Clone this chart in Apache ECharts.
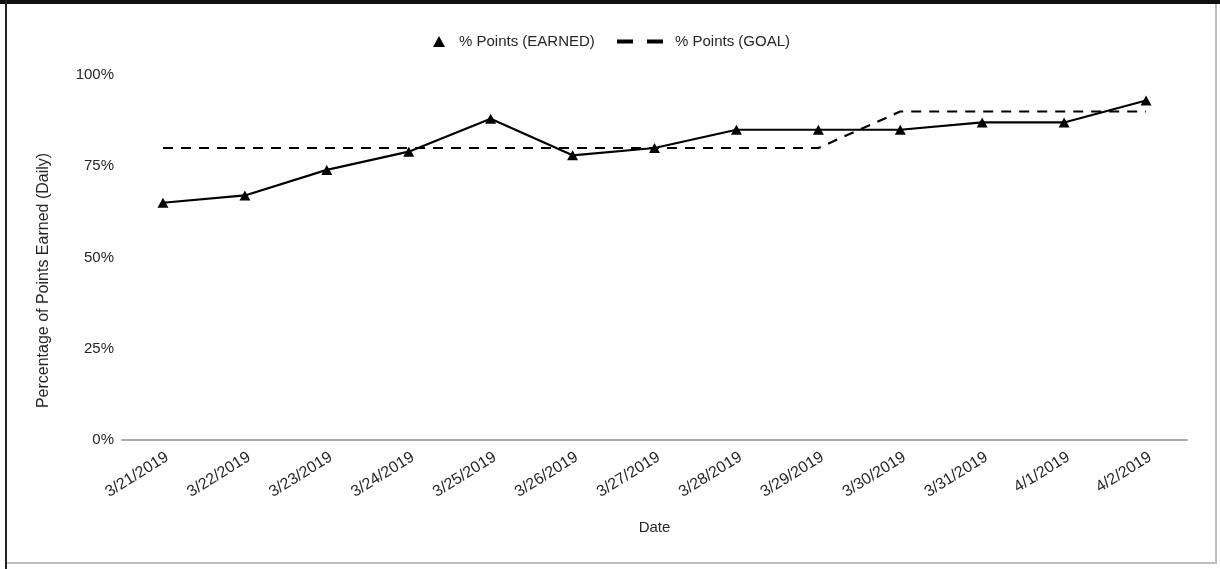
<!DOCTYPE html>
<html>
<head>
<meta charset="utf-8">
<script src="https://cdn.jsdelivr.net/npm/echarts@6/dist/echarts.min.js"></script>
<style>
  html, body { margin: 0; padding: 0; background: #fff; }
  #chart { position: absolute; left: 0; top: 0; width: 1220px; height: 569px; }
  .edge { position: absolute; pointer-events: none; }
</style>
</head>
<body>
<div id="chart"></div>
<!-- sheet frame around the embedded chart -->
<div class="edge" style="left:0;top:0;width:1220px;height:4px;background:#111;"></div>
<div class="edge" style="left:5px;top:0;width:2px;height:569px;background:#222;"></div>
<div class="edge" style="left:1215px;top:4px;width:2px;height:560px;background:#bdbdbd;"></div>
<div class="edge" style="left:7px;top:562px;width:1210px;height:2px;background:#bdbdbd;"></div>
<script>
const dates = ['3/21/2019', '3/22/2019', '3/23/2019', '3/24/2019', '3/25/2019', '3/26/2019',
  '3/27/2019', '3/28/2019', '3/29/2019', '3/30/2019', '3/31/2019', '4/1/2019', '4/2/2019'];
const earned = [65, 67, 74, 79, 88, 78, 80, 85, 85, 85, 87, 87, 93];
const goal = [80, 80, 80, 80, 80, 80, 80, 80, 80, 90, 90, 90, 90];
const yTicks = [0, 25, 50, 75, 100];

const FONT = '"Liberation Sans", Arial, sans-serif';
const TEXT = '#262626';
const chart = echarts.init(document.getElementById('chart'), null, { renderer: 'canvas' });

chart.setOption({
  animation: false,
  backgroundColor: '#fff',
  textStyle: { fontFamily: FONT },
  legend: [
    {
      data: [{ name: '% Points (EARNED)', icon: 'triangle' }],
      left: 428, top: 29,
      itemWidth: 12, itemHeight: 11, itemGap: 8,
      textStyle: { fontFamily: FONT, fontSize: 15, color: TEXT, padding: [0, 0, 0, 9] },
      itemStyle: { color: '#000' }
    },
    {
      data: [{ name: '% Points (GOAL)', icon: 'path://M0,0H16V4H0Z M30,0H46V4H30Z' }],
      left: 612, top: 29,
      itemWidth: 46, itemHeight: 4,
      textStyle: { fontFamily: FONT, fontSize: 15, color: TEXT, padding: [0, 0, 0, 7] },
      itemStyle: { color: '#000' }
    }
  ],
  grid: { left: 122, right: 33, top: 75, bottom: 129 },
  xAxis: {
    type: 'category',
    data: dates,
    boundaryGap: true,
    name: 'Date',
    nameLocation: 'middle',
    nameGap: 80,
    nameTextStyle: { fontFamily: FONT, fontSize: 15, color: TEXT },
    axisLine: { lineStyle: { color: '#aaa', width: 2 } },
    axisTick: { show: false },
    axisLabel: {
      rotate: 32, margin: 9, fontFamily: FONT, fontSize: 16, color: TEXT,
      verticalAlign: 'top'
    }
  },
  yAxis: {
    type: 'value',
    min: yTicks[0],
    max: yTicks[yTicks.length - 1],
    interval: yTicks[1] - yTicks[0],
    name: 'Percentage of Points Earned (Daily)',
    nameLocation: 'middle',
    nameGap: 70,
    nameTextStyle: { fontFamily: FONT, fontSize: 16, color: TEXT, padding: [0, 46, 0, 0] },
    axisLine: { show: false },
    axisTick: { show: false },
    splitLine: { show: false },
    axisLabel: { margin: 8, fontFamily: FONT, fontSize: 15, color: TEXT, formatter: v => v + '%' }
  },
  series: [
    {
      name: '% Points (EARNED)',
      type: 'line',
      data: earned,
      symbol: 'triangle',
      symbolSize: [11, 10],
      showAllSymbol: true,
      lineStyle: { color: '#000', width: 2.2 },
      itemStyle: { color: '#000' },
      z: 3
    },
    {
      name: '% Points (GOAL)',
      type: 'line',
      data: goal,
      symbol: 'none',
      lineStyle: { color: '#000', width: 2.2, type: [10, 8] },
      itemStyle: { color: '#000' },
      z: 2
    }
  ]
});
</script>
</body>
</html>
